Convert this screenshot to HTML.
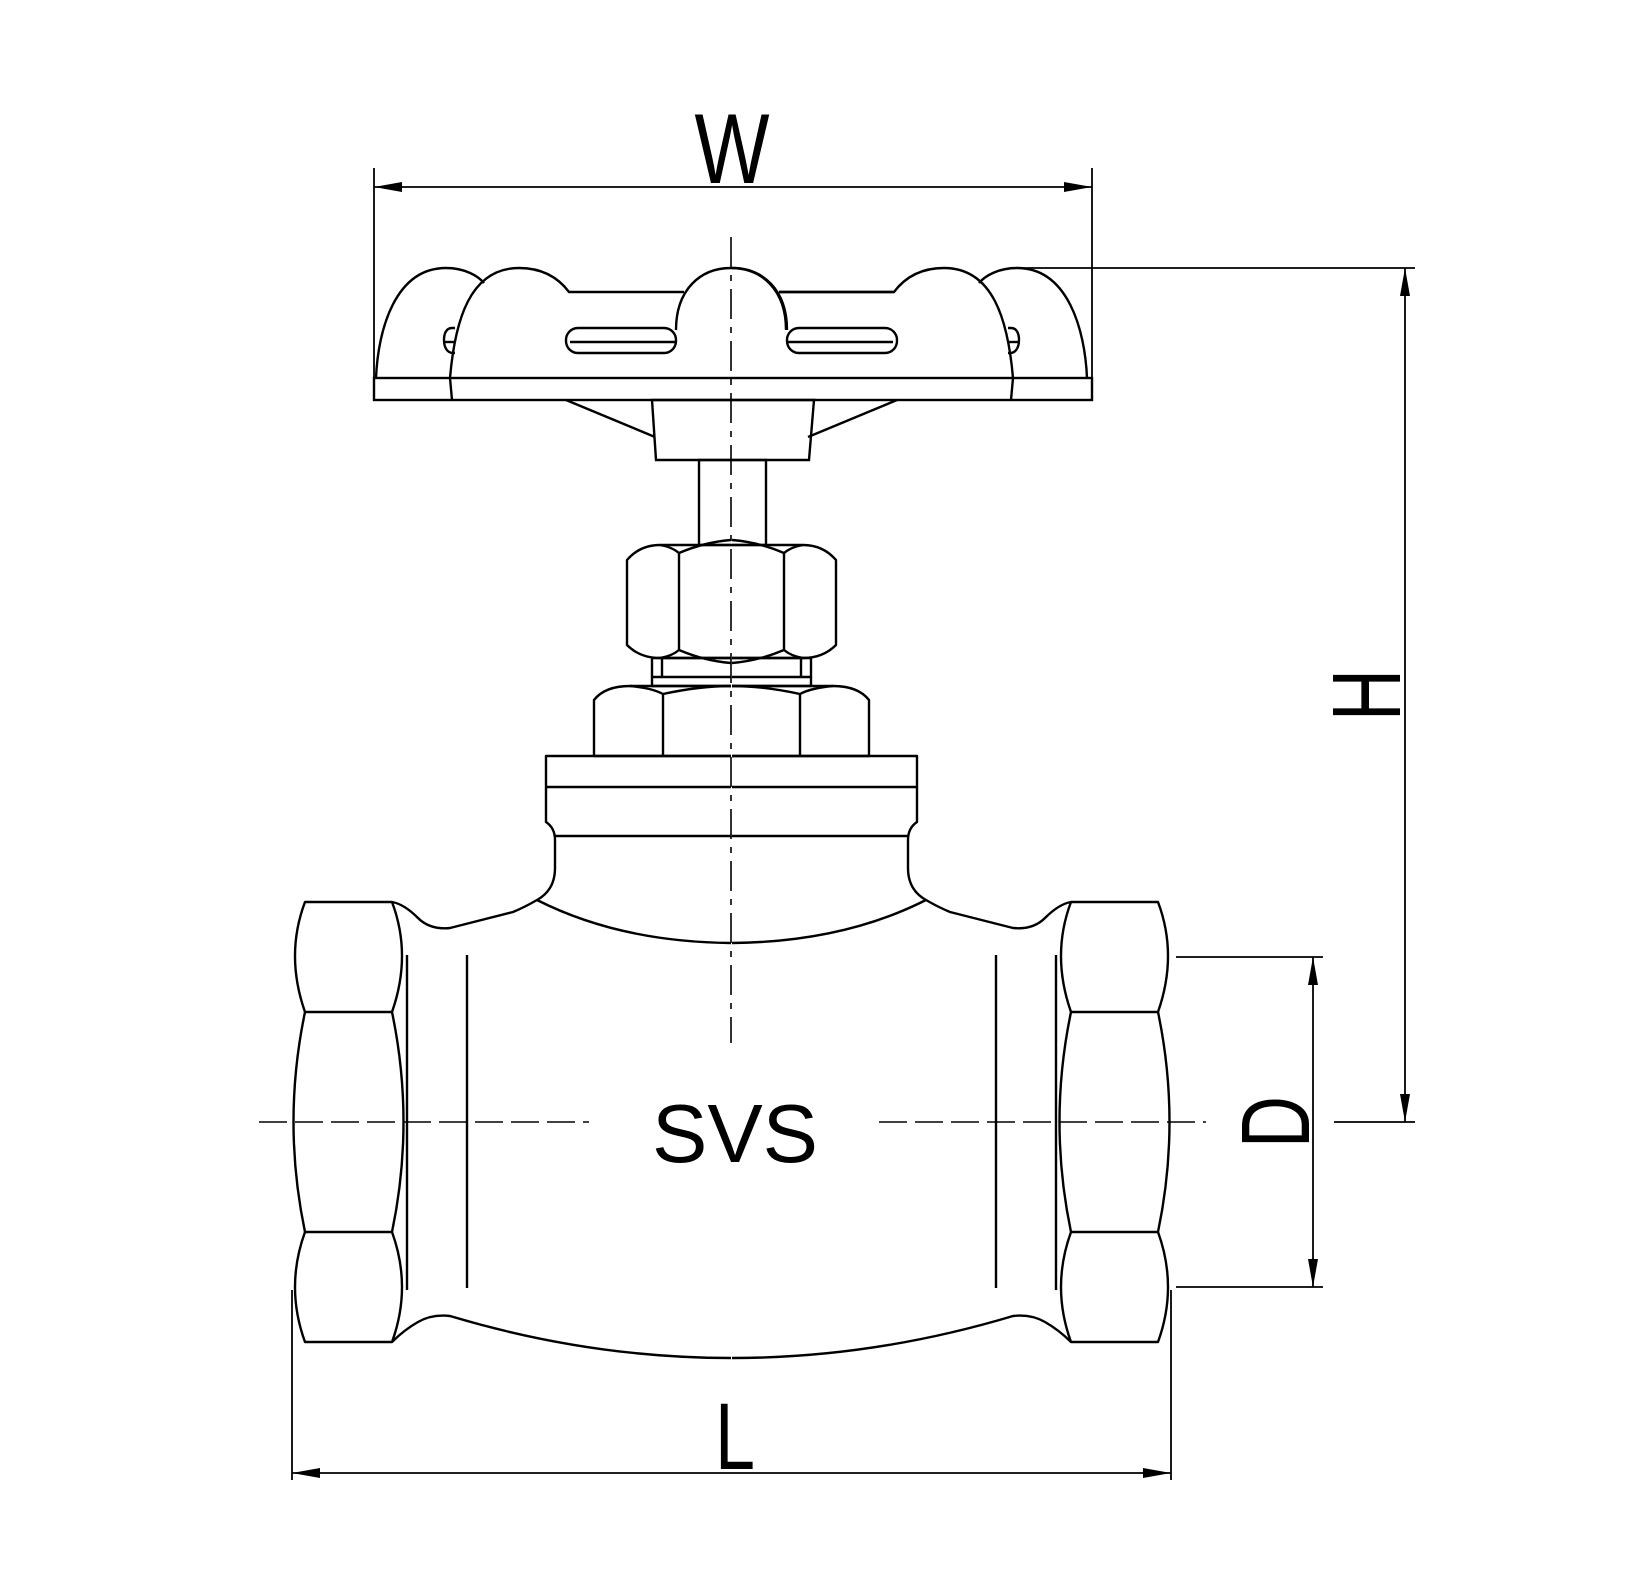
<!DOCTYPE html>
<html><head><meta charset="utf-8"><style>html,body{margin:0;padding:0;background:#fff}svg{display:block}</style></head>
<body>
<svg width="1644" height="1571" viewBox="0 0 1644 1571" xmlns="http://www.w3.org/2000/svg">
<defs>
<g id="half" fill="none" stroke="#000" stroke-width="2.4" stroke-linejoin="round">
  <!-- handwheel lobes -->
  <path d="M376,378 C378,330 395,268 446,268 C465,268 478,276 484,283"/>
  <path d="M452,400 L450,378 C455,320 470,268 519,268 C545,268 560,280 569,292 L684,292"/>
  <path d="M731,268 C700,268 676,290 676,330"/>
  <rect x="566" y="328" width="110" height="25" rx="12"/>
  <line x1="570" y1="342" x2="676" y2="342"/>
  <path d="M455,328 L452,328 C446,328 444,334 444,340 C444,347 447,353 453,353 L455,353"/>
  <line x1="444" y1="342" x2="455" y2="342"/>
  <!-- under wheel -->
  <line x1="566" y1="400" x2="655" y2="437"/>
  <!-- upper nut -->
  <path d="M731,545 L660,545 Q640,545 627,560 L627,645 Q640,658 660,658 L731,658"/>
  <line x1="679" y1="553" x2="679" y2="650"/>
  <path d="M660,545 Q672,547 679,553 Q705,542 731,540"/>
  <path d="M660,658 Q672,656 679,650 Q705,661 731,663"/>
  <!-- ring -->
  <path d="M731,658 L652,658 L652,686 L731,686"/>
  <line x1="662" y1="658" x2="662" y2="677"/>
  <line x1="652" y1="677" x2="731" y2="677"/>
  <!-- lower nut -->
  <path d="M731,756 L594,756 L594,700 Q605,686 630,686 L731,686"/>
  <line x1="663" y1="694" x2="663" y2="756"/>
  <path d="M630,686 Q652,688 663,694 Q700,686 731,686"/>
  <!-- flange & neck -->
  <path d="M731,756 L546,756 L546,822 Q555,828 555,840 L555,868 Q555,890 537,900 Q525,907 513,912 L450,928 Q430,930 418,918 Q404,904 392,902"/>
  <line x1="546" y1="787" x2="731" y2="787"/>
  <line x1="555" y1="836" x2="731" y2="836"/>
  <path d="M537,900 Q620,942 731,943"/>
  <!-- bottom body -->
  <path d="M392,1342 Q404,1330 418,1322 Q432,1314 450,1316 Q590,1358 731,1358"/>
  <!-- hex end -->
  <path d="M305,902 L392,902 Q412,955 392,1012 L305,1012 Q285,955 305,902 Z"/>
  <path d="M305,1012 Q282,1122 305,1232 L392,1232 Q415,1122 392,1012"/>
  <path d="M305,1232 Q285,1287 305,1342 L392,1342 Q412,1287 392,1232"/>
  <line x1="407" y1="955" x2="407" y2="1290"/>
  <line x1="467" y1="955" x2="467" y2="1288"/>
</g>
</defs>
<rect width="1644" height="1571" fill="#fff"/>
<use href="#half"/>
<use href="#half" transform="translate(1463,0) scale(-1,1)"/>
<g fill="none" stroke="#000" stroke-width="2.4">
  <path d="M731,268 C762,268 786,290 786,330"/>
  <line x1="779" y1="292" x2="894" y2="292"/>
  <rect x="374" y="378" width="718" height="22"/>
  <polygon points="652,400 814,400 809,460 656,460"/>
  <rect x="699" y="460" width="67" height="85"/>
  <line x1="731" y1="837" x2="731" y2="836"/>
</g>
<!-- centerlines -->
<g stroke="#000" stroke-width="1.6" fill="none">
  <line x1="731" y1="237" x2="731" y2="1043" stroke-dasharray="30 8 6 8"/>
  <line x1="259" y1="1122" x2="589" y2="1122" stroke-dasharray="28 8"/>
  <line x1="879" y1="1122" x2="1206" y2="1122" stroke-dasharray="28 8"/>
</g>
<!-- dimensions -->
<g stroke="#000" stroke-width="1.8" fill="none">
  <line x1="374" y1="168" x2="374" y2="378"/>
  <line x1="1092" y1="168" x2="1092" y2="378"/>
  <line x1="374" y1="187" x2="1092" y2="187"/>
  <line x1="1017" y1="268" x2="1415" y2="268"/>
  <line x1="1334" y1="1122" x2="1415" y2="1122"/>
  <line x1="1405" y1="268" x2="1405" y2="1122"/>
  <line x1="1176" y1="957" x2="1323" y2="957"/>
  <line x1="1176" y1="1287" x2="1323" y2="1287"/>
  <line x1="1313" y1="957" x2="1313" y2="1287"/>
  <line x1="292" y1="1290" x2="292" y2="1480"/>
  <line x1="1171" y1="1290" x2="1171" y2="1480"/>
  <line x1="292" y1="1473" x2="1171" y2="1473"/>
</g>
<g fill="#000">
  <polygon points="374,187 402,182 402,192"/>
  <polygon points="1092,187 1064,182 1064,192"/>
  <polygon points="1405,268 1400,296 1410,296"/>
  <polygon points="1405,1122 1400,1094 1410,1094"/>
  <polygon points="1313,957 1308,985 1318,985"/>
  <polygon points="1313,1287 1308,1259 1318,1259"/>
  <polygon points="292,1473 320,1468 320,1478"/>
  <polygon points="1171,1473 1143,1468 1143,1478"/>
</g>
<g font-family="Liberation Sans, sans-serif" fill="#000" text-anchor="middle">
  <text x="732" y="183" font-size="99" textLength="75" lengthAdjust="spacingAndGlyphs">W</text>
  <text x="735" y="1162" font-size="83">SVS</text>
  <text x="735" y="1469" font-size="95" textLength="40" lengthAdjust="spacingAndGlyphs">L</text>
  <text transform="translate(1309,1122) rotate(-90)" x="0" y="0" font-size="97" textLength="52" lengthAdjust="spacingAndGlyphs">D</text>
  <text transform="translate(1400,695) rotate(-90)" x="0" y="0" font-size="97" textLength="52" lengthAdjust="spacingAndGlyphs">H</text>
</g>
</svg>
</body></html>
